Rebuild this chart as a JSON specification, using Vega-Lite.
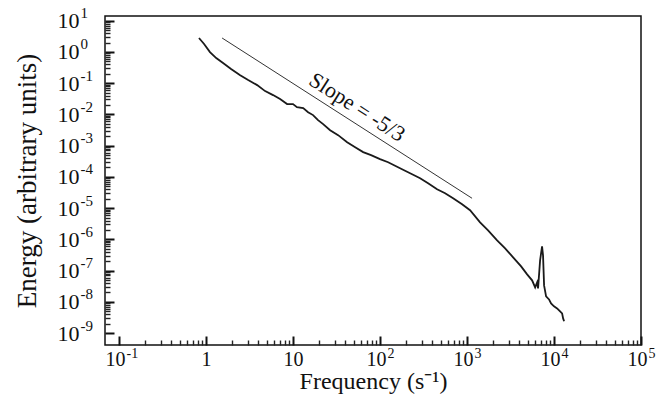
{
  "$schema": "https://vega.github.io/schema/vega-lite/v6.json",
  "width": 536,
  "height": 329,
  "autosize": "none",
  "padding": {"left": 105, "top": 16, "right": 24, "bottom": 53},
  "background": "white",
  "config": {
    "view": {"stroke": "#111", "strokeWidth": 1.5},
    "font": "Liberation Serif",
    "axis": {
      "domainColor": "#111", "labelColor": "#111", "titleColor": "#111",
      "labelFont": "Liberation Serif", "titleFont": "Liberation Serif", "titleFontWeight": "normal",
      "grid": false, "labelFlush": false, "labelOverlap": false
    }
  },
  "datasets": {
    "spectrum": [
      {"f": 0.83, "E": 2.79}, {"f": 0.95, "E": 1.79}, {"f": 1.11, "E": 0.99}, {"f": 1.31, "E": 0.637},
      {"f": 1.57, "E": 0.44}, {"f": 1.94, "E": 0.283}, {"f": 2.47, "E": 0.18}, {"f": 3.05, "E": 0.126},
      {"f": 3.87, "E": 0.0867}, {"f": 4.78, "E": 0.0557}, {"f": 5.9, "E": 0.0415}, {"f": 7.1, "E": 0.0309},
      {"f": 8.55, "E": 0.0214}, {"f": 10.0, "E": 0.0214}, {"f": 11.1, "E": 0.0171}, {"f": 13.1, "E": 0.0159},
      {"f": 14.9, "E": 0.0118}, {"f": 17.0, "E": 0.0095}, {"f": 19.4, "E": 0.00656}, {"f": 22.2, "E": 0.00489},
      {"f": 26.7, "E": 0.00313}, {"f": 33, "E": 0.00217}, {"f": 41.9, "E": 0.00129}, {"f": 51.8, "E": 0.000893},
      {"f": 64, "E": 0.00062}, {"f": 78.9, "E": 0.000495}, {"f": 100, "E": 0.000369}, {"f": 124, "E": 0.000295},
      {"f": 153, "E": 0.00022}, {"f": 189, "E": 0.000164}, {"f": 234, "E": 0.000122}, {"f": 289, "E": 0.0000908},
      {"f": 357, "E": 0.0000627}, {"f": 453, "E": 0.0000403}, {"f": 560, "E": 0.00003}, {"f": 692, "E": 0.0000207},
      {"f": 878, "E": 0.0000133}, {"f": 1084, "E": 0.00000855}, {"f": 1413, "E": 0.00000352}, {"f": 1746, "E": 0.00000195},
      {"f": 2218, "E": 9.35e-7}, {"f": 2742, "E": 5.18e-7}, {"f": 3388, "E": 2.67e-7}, {"f": 4188, "E": 1.37e-7},
      {"f": 4909, "E": 7.6e-8}, {"f": 5600, "E": 4.9e-8}, {"f": 6070, "E": 2.9e-8}, {"f": 6400, "E": 4.2e-8},
      {"f": 6560, "E": 2.7e-8}, {"f": 6920, "E": 2.14e-7}, {"f": 7290, "E": 6.0e-7}, {"f": 7480, "E": 3.1e-7},
      {"f": 7690, "E": 3.37e-8}, {"f": 8110, "E": 1.5e-8}, {"f": 8770, "E": 1.2e-8}, {"f": 9250, "E": 8.9e-9},
      {"f": 10000, "E": 7.2e-9}, {"f": 10860, "E": 6.2e-9}, {"f": 11750, "E": 4.95e-9}, {"f": 12390, "E": 4.28e-9},
      {"f": 12730, "E": 2.96e-9}, {"f": 13060, "E": 2.4e-9}
    ],
    "slope": [{"f": 1.53, "E": 2.79}, {"f": 1143, "E": 0.0000207}],
    "label": [{"f": 54.6, "E": 0.0171, "t": "Slope = -5/3"}]
  },
  "layer": [
    {
      "data": {"name": "spectrum"},
      "mark": {"type": "line", "color": "#1a1a1a", "strokeWidth": 1.8},
      "encoding": {
        "x": {
          "field": "f", "type": "quantitative",
          "scale": {"type": "log", "domain": [0.069, 100000]},
          "axis": {
            "orient": "bottom", "offset": -9, "domain": false, "ticks": true, "tickSize": 9, "tickColor": "#111", "tickWidth": 2,
            "values": [0.1, 1, 10, 100, 1000, 10000, 100000],
            "labelExpr": "['10','1','10','10','10','10','10'][round(log(datum.value)/LN10)+1]",
            "labelAlign": {"condition": {"test": "datum.value == 1 || datum.value == 10", "value": "center"}, "value": "right"},
            "labelOffset": {"condition": {"test": "datum.value == 1 || datum.value == 10", "value": 0}, "value": 6},
            "labelFontSize": 20, "labelPadding": 4,
            "title": "Frequency (s⁻¹)", "titleFontSize": 24, "titlePadding": 0
          }
        },
        "y": {
          "field": "E", "type": "quantitative",
          "scale": {"type": "log", "domain": [4.17e-10, 14.1]},
          "axis": {
            "orient": "left", "offset": -9, "domain": false, "ticks": true, "tickSize": 9, "tickColor": "#111", "tickWidth": 2,
            "values": [1e-9, 1e-8, 1e-7, 1e-6, 1e-5, 1e-4, 1e-3, 1e-2, 1e-1, 1, 10],
            "labelExpr": "'10'",
            "labelFontSize": 22, "labelPadding": 26,
            "title": "Energy (arbitrary units)", "titleFontSize": 27, "titlePadding": 16
          }
        }
      }
    },
    {
      "data": {"name": "slope"},
      "mark": {"type": "line", "color": "#333", "strokeWidth": 1},
      "encoding": {
        "x": {
          "field": "f", "type": "quantitative",
          "scale": {"type": "log", "domain": [0.069, 100000]},
          "axis": {
            "orient": "bottom", "offset": -5, "domain": false, "labels": false, "title": null, "ticks": true, "tickSize": 5, "tickColor": "#222", "tickWidth": 1.4,
            "values": [0.2,0.3,0.4,0.5,0.6,0.7,0.8,0.9,2,3,4,5,6,7,8,9,20,30,40,50,60,70,80,90,200,300,400,500,600,700,800,900,2000,3000,4000,5000,6000,7000,8000,9000,20000,30000,40000,50000,60000,70000,80000,90000]
          }
        },
        "y": {
          "field": "E", "type": "quantitative",
          "scale": {"type": "log", "domain": [4.17e-10, 14.1]},
          "axis": {
            "orient": "left", "offset": -5, "domain": false, "labels": false, "title": null, "ticks": true, "tickSize": 5, "tickColor": "#222", "tickWidth": 1.4,
            "values": [2e-9,3e-9,4e-9,5e-9,6e-9,7e-9,8e-9,9e-9,2e-8,3e-8,4e-8,5e-8,6e-8,7e-8,8e-8,9e-8,2e-7,3e-7,4e-7,5e-7,6e-7,7e-7,8e-7,9e-7,2e-6,3e-6,4e-6,5e-6,6e-6,7e-6,8e-6,9e-6,2e-5,3e-5,4e-5,5e-5,6e-5,7e-5,8e-5,9e-5,2e-4,3e-4,4e-4,5e-4,6e-4,7e-4,8e-4,9e-4,2e-3,3e-3,4e-3,5e-3,6e-3,7e-3,8e-3,9e-3,0.02,0.03,0.04,0.05,0.06,0.07,0.08,0.09,0.2,0.3,0.4,0.5,0.6,0.7,0.8,0.9,2,3,4,5,6,7,8,9]
          }
        }
      }
    },
    {
      "data": {"name": "label"},
      "mark": {"type": "text", "angle": 32.6, "fontSize": 22, "font": "Liberation Serif", "color": "#111", "align": "center", "baseline": "middle"},
      "encoding": {
        "x": {
          "field": "f", "type": "quantitative", "scale": {"type": "log", "domain": [0.069, 100000]},
          "axis": {
            "orient": "bottom", "domain": false, "ticks": false, "title": null,
            "values": [0.1, 100, 1000, 10000, 100000],
            "labelExpr": "['-1','','','2','3','4','5'][round(log(datum.value)/LN10)+1]",
            "labelAlign": "left", "labelOffset": 7, "labelFontSize": 14, "labelPadding": 1
          }
        },
        "y": {
          "field": "E", "type": "quantitative", "scale": {"type": "log", "domain": [4.17e-10, 14.1]},
          "axis": {
            "orient": "left", "domain": false, "ticks": false, "title": null,
            "values": [1e-9, 1e-8, 1e-7, 1e-6, 1e-5, 1e-4, 1e-3, 1e-2, 1e-1, 1, 10],
            "labelExpr": "['-9','-8','-7','-6','-5','-4','-3','-2','-1','0','1'][round(log(datum.value)/LN10)+9]",
            "labelAlign": "left", "labelOffset": -8, "labelFontSize": 15, "labelPadding": 25
          }
        },
        "text": {"field": "t"}
      }
    }
  ],
  "resolve": {"axis": {"x": "independent", "y": "independent"}}
}
